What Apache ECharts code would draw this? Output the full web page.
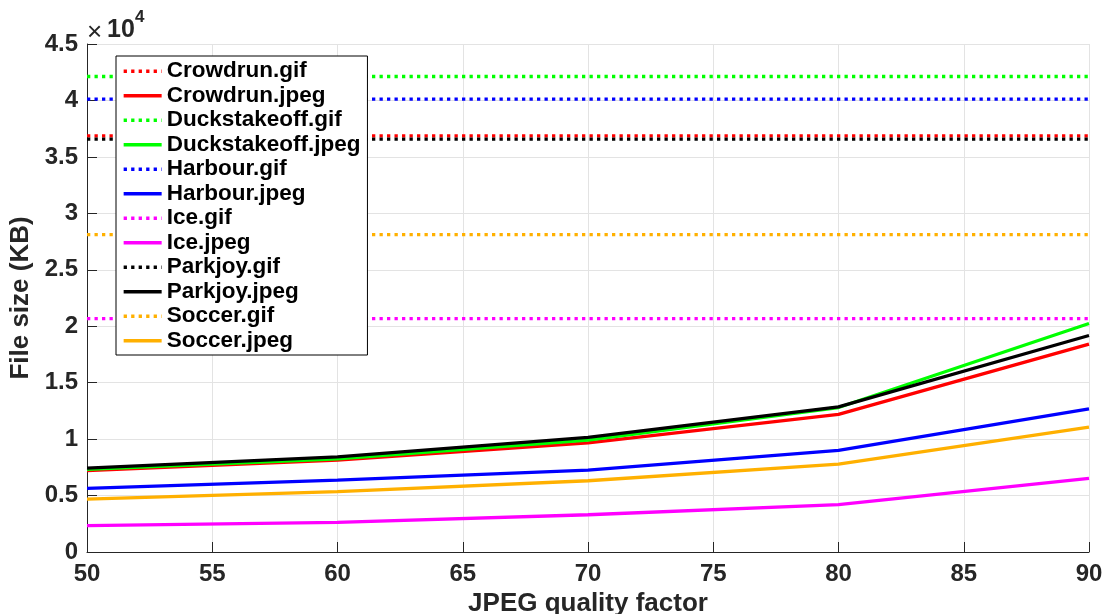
<!DOCTYPE html>
<html>
<head>
<meta charset="utf-8">
<script src="https://cdn.jsdelivr.net/npm/echarts@6/dist/echarts.min.js"></script>
<style>
html,body{margin:0;padding:0;background:#fff;}
#chart{width:1107px;height:614px;}
</style>
</head>
<body>
<div id="chart"></div>
<script>
// ---- data ----
const qualities = [50, 60, 70, 80, 90];
const xTicks = [50, 55, 60, 65, 70, 75, 80, 85, 90];
const yTickLabels = ['0', '0.5', '1', '1.5', '2', '2.5', '3', '3.5', '4', '4.5'];

const crowdrunGif = 36870;
const duckGif = 42120;
const harbourGif = 40120;
const iceGif = 20680;
const parkjoyGif = 36580;
const soccerGif = 28110;

const crowdrunJpeg = [7200, 8140, 9670, 12190, 18410];
const duckJpeg = [7320, 8260, 9910, 12800, 20240];
const harbourJpeg = [5640, 6370, 7260, 9000, 12680];
const iceJpeg = [2330, 2630, 3300, 4190, 6520];
const parkjoyJpeg = [7430, 8430, 10150, 12860, 19180];
const soccerJpeg = [4690, 5340, 6310, 7790, 11060];

const names = ['Crowdrun', 'Duckstakeoff', 'Harbour', 'Ice', 'Parkjoy', 'Soccer'];
const colors = ['#ff0000', '#00ff00', '#0000ff', '#ff00ff', '#000000', '#ffb000'];
const gifs = [crowdrunGif, duckGif, harbourGif, iceGif, parkjoyGif, soccerGif];
const jpegs = [crowdrunJpeg, duckJpeg, harbourJpeg, iceJpeg, parkjoyJpeg, soccerJpeg];

const series = [];
names.forEach((n, i) => {
  series.push({
    name: n + '.gif', type: 'line', symbol: 'none', silent: true,
    data: [[qualities[0], gifs[i]], [qualities[qualities.length - 1], gifs[i]]],
    lineStyle: { color: colors[i], width: 3.3, type: [3.3, 4.2], cap: 'butt' },
    itemStyle: { color: colors[i] }
  });
  series.push({
    name: n + '.jpeg', type: 'line', symbol: 'none', silent: true,
    data: qualities.map((q, k) => [q, jpegs[i][k]]),
    lineStyle: { color: colors[i], width: 3.3, type: 'solid' },
    itemStyle: { color: colors[i] }
  });
});

const chart = echarts.init(document.getElementById('chart'), null, { renderer: 'canvas' });
const axisColor = '#262626';
chart.setOption({
  animation: false,
  backgroundColor: '#ffffff',
  grid: { left: 87, right: 18, top: 44, bottom: 62, containLabel: false, outerBoundsMode: 'none' },
  xAxis: {
    type: 'value', min: 50, max: 90, interval: 5,
    name: 'JPEG quality factor', nameLocation: 'middle', nameGap: 39,
    nameTextStyle: { fontFamily: 'Liberation Sans', fontWeight: 'bold', fontSize: 26, color: axisColor },
    axisLine: { show: true, lineStyle: { color: axisColor, width: 1 } },
    axisTick: { show: true, inside: true, length: 10, lineStyle: { color: axisColor } },
    axisLabel: { margin: 10, fontFamily: 'Liberation Sans', fontWeight: 'bold', fontSize: 24, color: axisColor,
      formatter: v => xTicks.indexOf(v) >= 0 ? String(v) : '' },
    splitLine: { show: true, lineStyle: { color: '#e3e3e3', width: 1 } }
  },
  yAxis: {
    type: 'value', min: 0, max: 45000, interval: 5000,
    name: 'File size (KB)', nameLocation: 'middle', nameGap: 52,
    nameTextStyle: { fontFamily: 'Liberation Sans', fontWeight: 'bold', fontSize: 26, color: axisColor },
    axisLine: { show: true, lineStyle: { color: axisColor, width: 1 } },
    axisTick: { show: true, inside: true, length: 10, lineStyle: { color: axisColor } },
    axisLabel: { margin: 9, fontFamily: 'Liberation Sans', fontWeight: 'bold', fontSize: 24, color: axisColor,
      formatter: v => yTickLabels[Math.round(v / 5000)] },
    splitLine: { show: true, lineStyle: { color: '#e3e3e3', width: 1 } }
  },
  legend: {
    orient: 'vertical', left: 116, top: 56,
    padding: [3, 7, 2, 6],
    itemGap: 0, itemWidth: 38, itemHeight: 24.5,
    backgroundColor: '#ffffff', borderColor: '#000000', borderWidth: 1, borderRadius: 0,
    itemStyle: { opacity: 0 },
    lineStyle: { width: 3.3 },
    textStyle: { fontFamily: 'Liberation Sans', fontWeight: 'bold', fontSize: 22.5, color: '#000000', lineHeight: 24.5 },
    data: series.map(s => s.name)
  },
  graphic: [
    { type: 'text', left: 87, top: 20, style: { text: '×', fontFamily: 'Liberation Sans', fontSize: 26, fill: axisColor } },
    { type: 'text', left: 107, top: 18, style: { text: '10', fontFamily: 'Liberation Sans', fontWeight: 'bold', fontSize: 25, fill: axisColor } },
    { type: 'text', left: 135, top: 9, style: { text: '4', fontFamily: 'Liberation Sans', fontWeight: 'bold', fontSize: 17, fill: axisColor } }
  ],
  series: series
});
</script>
</body>
</html>
